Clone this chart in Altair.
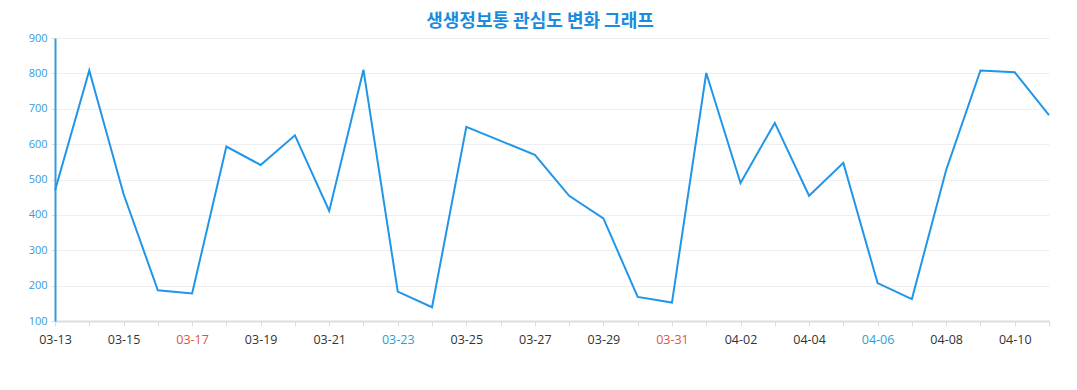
import altair as alt
import pandas as pd

dates = ["03-13","03-14","03-15","03-16","03-17","03-18","03-19","03-20","03-21","03-22",
         "03-23","03-24","03-25","03-26","03-27","03-28","03-29","03-30","03-31","04-01",
         "04-02","04-03","04-04","04-05","04-06","04-07","04-08","04-09","04-10","04-11"]
values = [469, 808, 459, 187, 178, 593, 541, 625, 411, 810,
          183, 139, 649, 609, 570, 454, 390, 168, 152, 801,
          490, 660, 454, 547, 207, 162, 527, 808, 803, 682]
shown_labels = dates[::2]
red_labels = ["03-17", "03-31"]
blue_labels = ["03-23", "04-06"]

df = pd.DataFrame({"date": dates, "value": values})

label_expr = "indexof(" + str(shown_labels) + ", datum.value) >= 0 ? datum.value : ''"
color_expr = ("indexof(" + str(red_labels) + ", datum.value) >= 0 ? '#e0533c' : "
              "(indexof(" + str(blue_labels) + ", datum.value) >= 0 ? '#2a9fd6' : '#333333')")

chart = alt.Chart(df).mark_line(color="#2196e8", strokeWidth=2).encode(
    x=alt.X("date:O", sort=dates,
            scale=alt.Scale(type="point", padding=0),
            axis=alt.Axis(title=None, labelAngle=0, labelExpr=label_expr,
                          labelColor=alt.expr(color_expr), labelFont="Open Sans",
                          labelFontSize=12.5, labelPadding=7,
                          domainColor="#dddddd", domainWidth=2,
                          tickColor="#dddddd", tickSize=5, grid=False)),
    y=alt.Y("value:Q", scale=alt.Scale(domain=[100, 900], nice=False, zero=False),
            axis=alt.Axis(title=None, values=list(range(100, 1000, 100)),
                          labelColor="#3a9ad9", labelFont="Open Sans", labelFontSize=11,
                          domainColor="#3a9ad9", domainWidth=2,
                          tickColor="#dddddd", tickSize=4, labelPadding=4,
                          gridColor="#eeeeee", gridWidth=1)),
).properties(
    width=994, height=283,
    autosize=alt.AutoSizeParams(type="none"),
    padding={"left": 47, "top": 30, "right": 20, "bottom": 40},
    title=alt.TitleParams("생생정보통 관심도 변화 그래프", font="Noto Sans CJK KR",
                          fontSize=18, fontWeight="bold", color="#1a8ce0",
                          anchor="middle", dx=-12, offset=10, dy=9),
).configure_view(stroke=None)

chart.save("out.html", embed_options={"renderer": "svg", "actions": False})
